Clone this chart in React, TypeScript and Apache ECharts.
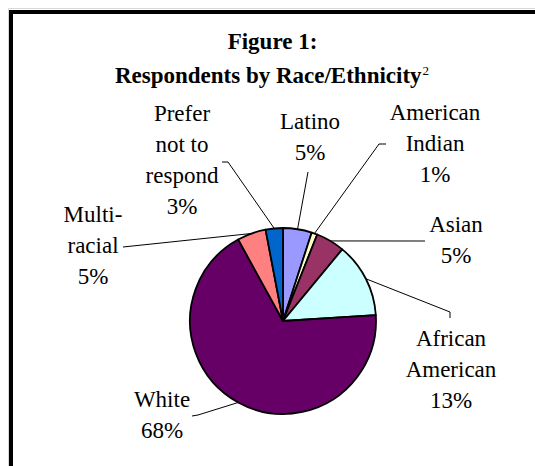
import React, { useEffect, useRef } from "react";
import * as echarts from "echarts";

const categories = [
  "Latino",
  "American Indian",
  "Asian",
  "African American",
  "White",
  "Multi-racial",
  "Prefer not to respond",
];
const percents = [5, 1, 5, 13, 68, 5, 3];
const wrappedNames = [
  "Latino",
  "American\nIndian",
  "Asian",
  "African\nAmerican",
  "White",
  "Multi-\nracial",
  "Prefer\nnot to\nrespond",
];
const sliceColors = ["#9999FF", "#FFFFCC", "#993366", "#CCFFFF", "#660066", "#FF8080", "#0066CC"];
const titleLines = ["Figure 1:", "Respondents by Race/Ethnicity"];
const titleNote = "2";

// label layout (block centres and leader-line bends)
const labelCentres: [number, number][] = [
  [310, 137],
  [435, 143],
  [456, 240],
  [451, 369],
  [162, 415],
  [93, 245],
  [182, 160],
];
const leaderBends: [number, number][][] = [
  [[308, 172], [308, 172]],
  [[379, 144], [386, 144]],
  [[425, 241], [425, 241]],
  [[450, 312], [450, 318]],
  [[198, 415], [192, 416]],
  [[123, 247], [123, 247]],
  [[228, 162], [222, 162]],
];

export default function App() {
  const ref = useRef<HTMLDivElement>(null);
  useEffect(() => {
    if (!ref.current) return;
    const chart = echarts.init(ref.current, undefined, { renderer: "svg" });
    const serif = '"Liberation Serif", "Times New Roman", serif';
    chart.setOption({
      animation: false,
      backgroundColor: "#ffffff",
      graphic: [
        {
          type: "rect",
          z: 0,
          shape: { x: 8.5, y: 8.5, width: 700, height: 700 },
          style: { fill: "none", stroke: "#d8d8d8", lineWidth: 1 },
        },
        {
          type: "rect",
          z: 1,
          shape: { x: 11, y: 12, width: 700, height: 700 },
          style: { fill: "none", stroke: "#000", lineWidth: 4 },
        },
        {
          type: "text",
          x: 272.5,
          y: 41,
          style: {
            text: titleLines[0],
            font: `bold 23px ${serif}`,
            fill: "#000",
            align: "center",
            verticalAlign: "middle",
          },
        },
        {
          type: "text",
          x: 272,
          y: 75,
          style: {
            text: titleLines[1] + "{s|" + titleNote + "}",
            font: `bold 23px ${serif}`,
            fill: "#000",
            align: "center",
            verticalAlign: "middle",
            rich: {
              s: {
                font: `13px ${serif}`,
                fill: "#000",
                verticalAlign: "top",
                padding: [0, 0, 0, 1],
              },
            },
          },
        },
      ],
      series: [
        {
          type: "pie",
          center: [283, 321],
          radius: 93,
          startAngle: 90,
          clockwise: true,
          avoidLabelOverlap: false,
          minShowLabelAngle: 0,
          percentPrecision: 0,
          data: categories.map((name, i) => ({
            name,
            value: percents[i],
            itemStyle: { color: sliceColors[i] },
          })),
          itemStyle: { borderColor: "#000", borderWidth: 1.8 },
          emphasis: { disabled: true },
          label: {
            show: true,
            position: "outside",
            formatter: (p: any) => wrappedNames[p.dataIndex] + "\n" + p.percent + "%",
            fontFamily: serif,
            fontSize: 23,
            lineHeight: 31,
            color: "#000",
            align: "center",
          },
          labelLine: {
            show: true,
            length: 10,
            length2: 10,
            smooth: false,
            lineStyle: { color: "#000", width: 1 },
          },
          labelLayout: (params: any) => {
            const i = params.dataIndex;
            const [cx, cy] = labelCentres[i];
            const pts = params.labelLinePoints;
            const start = pts && pts[0] ? [pts[0][0], pts[0][1]] : [283, 321];
            return {
              x: cx,
              y: cy,
              align: "center",
              verticalAlign: "middle",
              labelLinePoints: [start, leaderBends[i][0], leaderBends[i][1]],
            };
          },
        },
      ],
    });
    return () => chart.dispose();
  }, []);
  return (
    <div
      ref={ref}
      style={{ position: "absolute", left: 0, top: 0, width: 535, height: 466 }}
    />
  );
}
